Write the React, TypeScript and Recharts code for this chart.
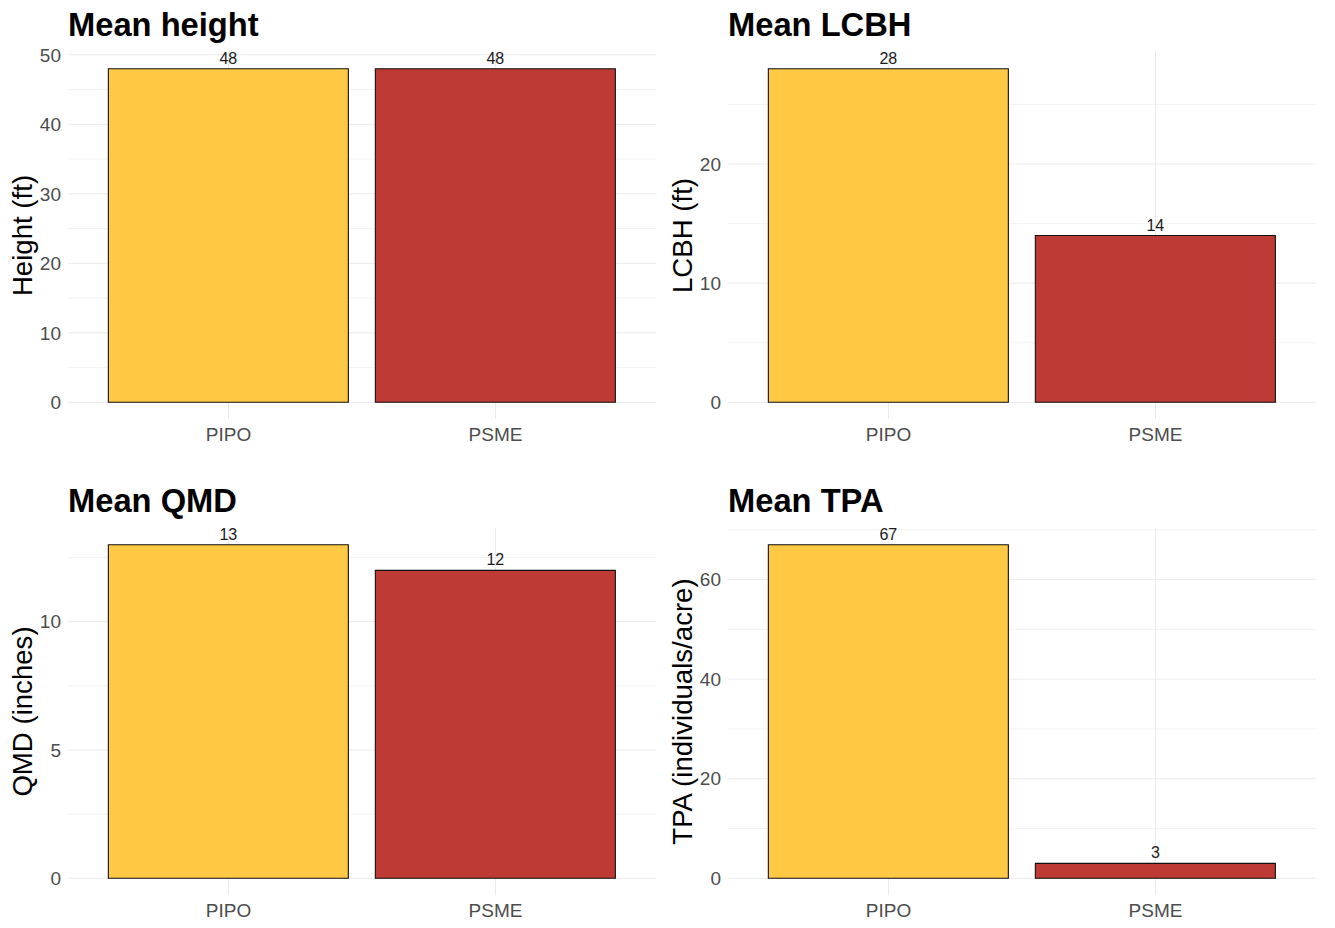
import React from "react";
import {
    Bar,
    BarChart,
    CartesianGrid,
    Cell,
    LabelList,
    XAxis,
    YAxis,
} from "recharts";

const species = ["PIPO", "PSME"];
const speciesColors = ["#FFC845", "#BE3A34"];

const meanHeight = [48, 48];
const meanLcbh = [28, 14];
const meanQmd = [13, 12];
const meanTpa = [67, 3];

const heightTicks = [0, 10, 20, 30, 40, 50];
const heightMinor = [5, 15, 25, 35, 45];
const lcbhTicks = [0, 10, 20];
const lcbhMinor = [5, 15, 25];
const qmdTicks = [0, 5, 10];
const qmdMinor = [2.5, 7.5, 12.5];
const tpaTicks = [0, 20, 40, 60];
const tpaMinor = [10, 30, 50, 70];

const FONT = '"Liberation Sans", Arial, sans-serif';
const W = 660;
const H = 476;
const PLOT_TOP = 52;
const PLOT_LEFT = 68;
const PLOT_H = 367;

type PanelProps = {
    title: string;
    yLabel: string;
    values: number[];
    ticks: number[];
    minorTicks: number[];
    left: number;
    top: number;
};

function Panel({ title, yLabel, values, ticks, minorTicks, left, top }: PanelProps) {
    const data = species.map((name, i) => ({ name, value: values[i] }));
    // ggplot style 5% expansion on both ends
    const max = Math.max(...values);
    const pad = max * 0.05;
    const cy = PLOT_TOP + PLOT_H / 2;
    const lx = 22.5;

    return (
        <div style={{ position: "absolute", left, top, width: W, height: H }}>
            <BarChart
                width={W}
                height={H}
                data={data}
                margin={{ top: PLOT_TOP, right: 4, bottom: 17, left: 0 }}
                barCategoryGap="5%">
                <CartesianGrid
                    horizontalValues={minorTicks}
                    vertical={false}
                    syncWithTicks
                    stroke="#f3f3f3"
                />
                <CartesianGrid
                    syncWithTicks
                    stroke="#ebebeb"
                />
                <XAxis
                    dataKey="name"
                    padding={{ left: 27, right: 27 }}
                    axisLine={false}
                    tickLine={false}
                    tickSize={0}
                    tickMargin={9}
                    height={40}
                    tick={{ fill: "#4d4d4d", fontSize: 19, fontFamily: FONT }}
                />
                <YAxis
                    type="number"
                    domain={[-pad, max + pad]}
                    ticks={ticks}
                    width={PLOT_LEFT}
                    axisLine={false}
                    tickLine={false}
                    tickSize={0}
                    tickMargin={7}
                    tick={{ fill: "#4d4d4d", fontSize: 19, fontFamily: FONT }}
                    label={() => (
                        <text
                            x={lx}
                            y={cy}
                            transform={`rotate(-90, ${lx}, ${cy})`}
                            textAnchor="middle"
                            dominantBaseline="central"
                            fill="#000"
                            fontSize={27.6}
                            fontFamily={FONT}>
                            {yLabel}
                        </text>
                    )}
                />
                <Bar
                    dataKey="value"
                    stroke="#111"
                    strokeWidth={1.1}
                    isAnimationActive={false}>
                    {data.map((d, i) => (
                        <Cell
                            key={d.name}
                            fill={speciesColors[i]}
                        />
                    ))}
                    <LabelList
                        dataKey="value"
                        position="top"
                        offset={5}
                        fill="#1a1a1a"
                        fontSize={16}
                        fontFamily={FONT}
                    />
                </Bar>
            </BarChart>
            <div
                style={{
                    position: "absolute",
                    left: PLOT_LEFT,
                    top: 9,
                    fontSize: 32.7,
                    lineHeight: "32px",
                    fontWeight: 700,
                    fontFamily: FONT,
                    color: "#000",
                    whiteSpace: "nowrap",
                }}>
                {title}
            </div>
        </div>
    );
}

export default function App() {
    return (
        <div
            style={{
                position: "absolute",
                left: 0,
                top: 0,
                width: 1335,
                height: 928,
                background: "#fff",
                overflow: "hidden",
            }}>
            <Panel title="Mean height" yLabel="Height (ft)" values={meanHeight} ticks={heightTicks} minorTicks={heightMinor} left={0} top={0} />
            <Panel title="Mean LCBH" yLabel="LCBH (ft)" values={meanLcbh} ticks={lcbhTicks} minorTicks={lcbhMinor} left={660} top={0} />
            <Panel title="Mean QMD" yLabel="QMD (inches)" values={meanQmd} ticks={qmdTicks} minorTicks={qmdMinor} left={0} top={476} />
            <Panel title="Mean TPA" yLabel="TPA (individuals/acre)" values={meanTpa} ticks={tpaTicks} minorTicks={tpaMinor} left={660} top={476} />
        </div>
    );
}
